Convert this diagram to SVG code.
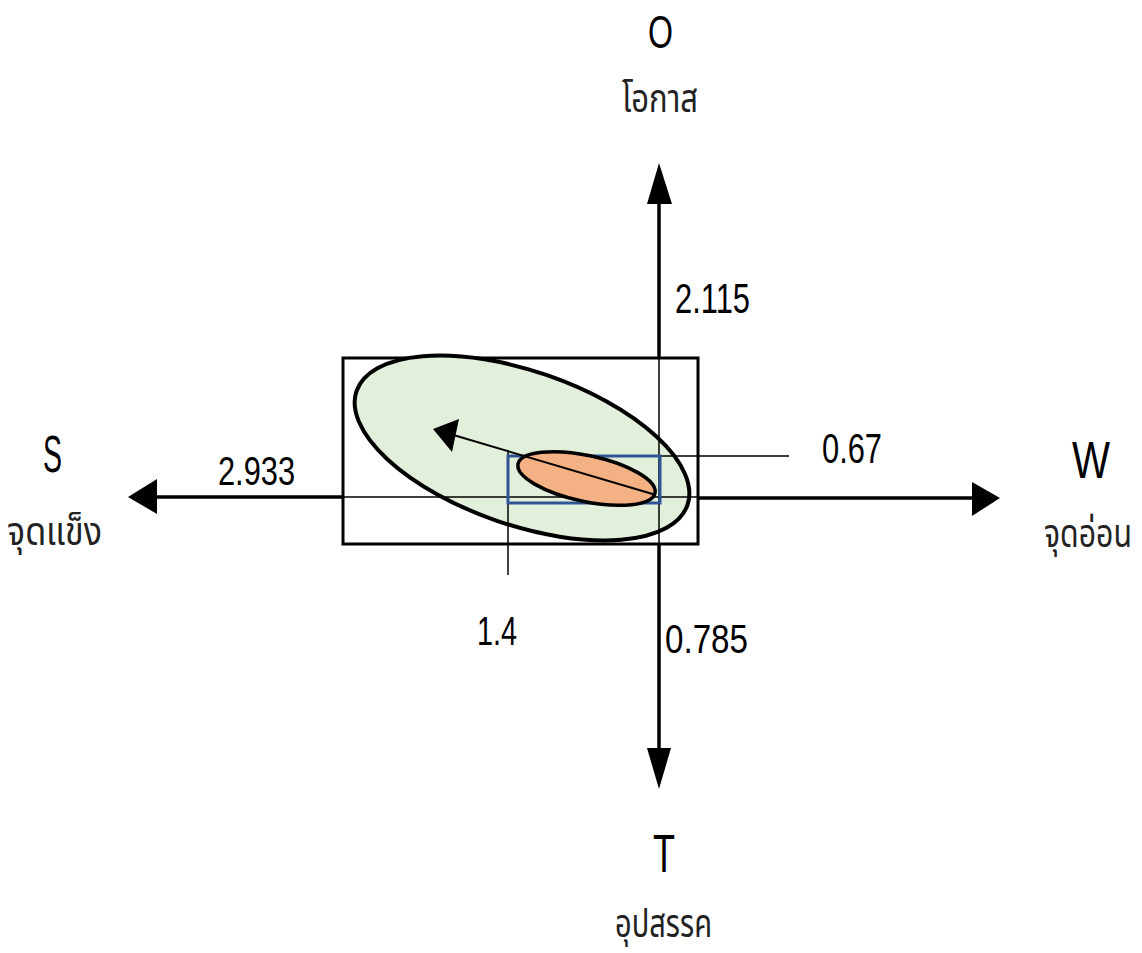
<svg xmlns="http://www.w3.org/2000/svg" width="1142" height="953" viewBox="0 0 1142 953">
<style>
.lat{font-family:"Liberation Sans",Arial,sans-serif;fill:#000}
.th{font-family:"Noto Sans Thai","Noto Sans Thai UI","Loma","Garuda","Norasi","Tlwg Typo","Waree","Sawasdee","DejaVu Sans","Noto Sans",sans-serif;fill:#222}
.thick{stroke:#000;stroke-width:3.5;fill:none}
.thin{stroke:#000;stroke-width:1.5;fill:none}
</style>
<rect width="1142" height="953" fill="#fff"/>
<g id="box">
<rect x="343" y="358" width="355" height="186" fill="none" stroke="#000" stroke-width="3"/>
</g>
<g id="green-ellipse">
<ellipse cx="522" cy="448" rx="175" ry="77" transform="rotate(19 522 448)" fill="#E2EFDA" stroke="#000" stroke-width="4"/>
</g>
<g id="connectors">
<line class="thick" x1="659" y1="200" x2="659" y2="358"/>
<line class="thin" x1="659" y1="358" x2="659" y2="544"/>
<line class="thick" x1="659" y1="544" x2="659" y2="752"/>
<polygon points="659,163 647,204 672,204" fill="#000"/>
<polygon points="659,789 647,748 671,748" fill="#000"/>
<line class="thick" x1="153" y1="497" x2="343" y2="497" stroke-width="4"/>
<line class="thin" x1="343" y1="497" x2="698" y2="497"/>
<line class="thick" x1="698" y1="498" x2="976" y2="498" stroke-width="4"/>
<polygon points="128,497 157,479 157,514" fill="#000"/>
<polygon points="1000,498 972,482 972,516" fill="#000"/>
<line class="thin" x1="508" y1="450" x2="508" y2="575"/>
<line class="thin" x1="508" y1="456" x2="789" y2="456"/>
</g>
<g id="blue-box">
<rect x="508" y="456" width="152" height="47" fill="none" stroke="#2F5597" stroke-width="3"/>
</g>
<g id="orange-ellipse">
<ellipse cx="586.5" cy="478.5" rx="70" ry="23" transform="rotate(12 586.5 478.5)" fill="#F4B183" stroke="#000" stroke-width="3.5"/>
</g>
<g id="direction-arrow">
<line x1="656" y1="495" x2="450" y2="434" stroke="#000" stroke-width="2"/>
<polygon points="433,429 459,419 452,452" fill="#000"/>
</g>
<g id="label-O">
<text class="lat" x="648" y="48" font-size="46" textLength="25" lengthAdjust="spacingAndGlyphs">O</text>
<text class="th" x="622" y="112" font-size="40" textLength="76" lengthAdjust="spacingAndGlyphs">โอกาส</text>
</g>
<g id="label-S">
<text class="lat" x="43" y="472" font-size="52" textLength="19" lengthAdjust="spacingAndGlyphs">S</text>
<text class="th" x="7" y="545" font-size="40" textLength="95" lengthAdjust="spacingAndGlyphs">จุดแข็ง</text>
</g>
<g id="label-W">
<text class="lat" x="1072" y="478" font-size="52" textLength="38" lengthAdjust="spacingAndGlyphs">W</text>
<g transform="translate(1044 547) scale(1 1.25)">
<text class="th" x="0" y="0" font-size="32" textLength="88" lengthAdjust="spacingAndGlyphs">จุดอ่อน</text>
</g>
</g>
<g id="label-T">
<text class="lat" x="653" y="872" font-size="54" textLength="22" lengthAdjust="spacingAndGlyphs">T</text>
<text class="th" x="615" y="937" font-size="40" textLength="97" lengthAdjust="spacingAndGlyphs">อุปสรรค</text>
</g>
<g id="values">
<text class="lat" x="675" y="313" font-size="42" textLength="75" lengthAdjust="spacingAndGlyphs">2.115</text>
<text class="lat" x="218" y="485" font-size="40" textLength="77" lengthAdjust="spacingAndGlyphs">2.933</text>
<text class="lat" x="822" y="463" font-size="42" textLength="60" lengthAdjust="spacingAndGlyphs">0.67</text>
<text class="lat" x="477" y="645" font-size="40" textLength="40" lengthAdjust="spacingAndGlyphs">1.4</text>
<text class="lat" x="665" y="653" font-size="40" textLength="83" lengthAdjust="spacingAndGlyphs">0.785</text>
</g>
</svg>
